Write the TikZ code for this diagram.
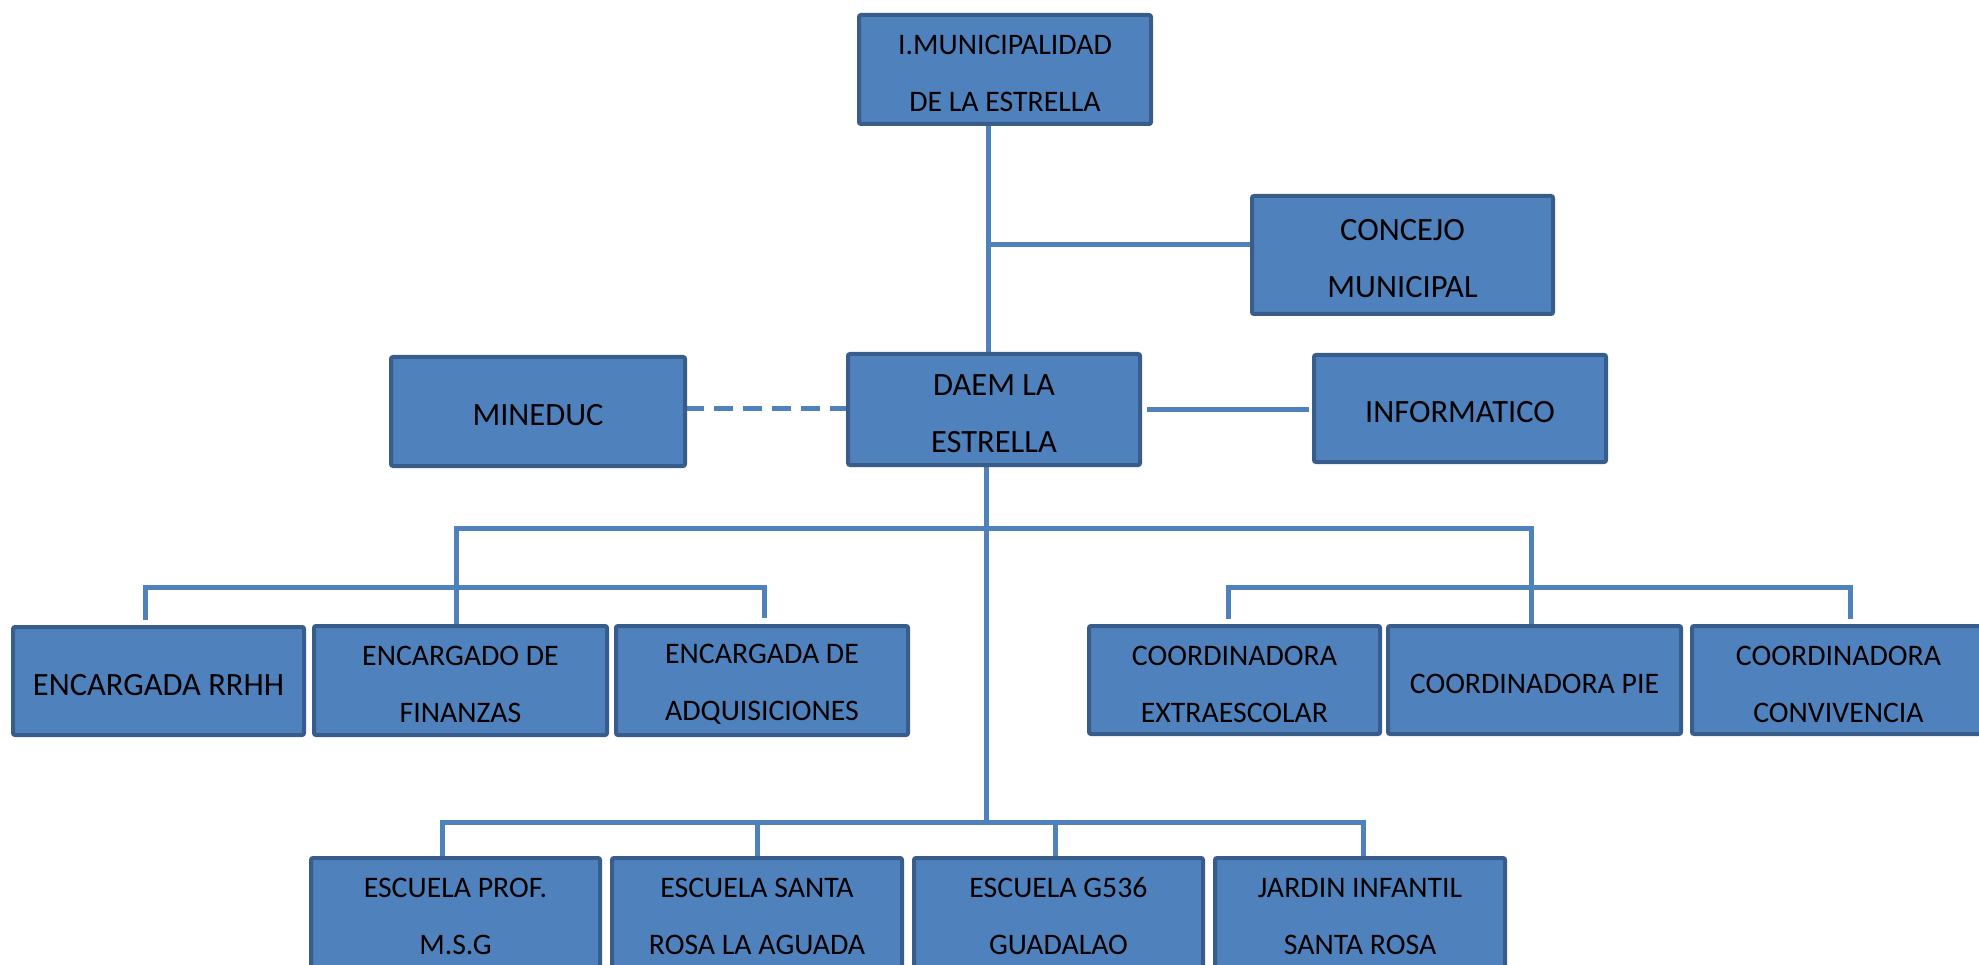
\documentclass[tikz,border=0pt]{standalone}
\usepackage{fontspec}
\setmainfont{Carlito}
\usetikzlibrary{backgrounds}
\definecolor{boxfill}{HTML}{4F81BD}
\definecolor{boxline}{HTML}{385D8A}
\definecolor{connc}{HTML}{4F81BD}
\begin{document}
\begin{tikzpicture}[x=1pt,y=-1pt,
  orgbox/.style={draw=boxline,line width=4pt,fill=boxfill,rounded corners=2pt,inner sep=0pt,outer sep=0pt},
  lbl/.style={align=center,inner sep=0pt,font=\fontsize{29.8}{57}\selectfont,text=black,yshift=-4pt},
  lblbig/.style={lbl,font=\fontsize{32.5}{57}\selectfont},
  conn/.style={draw=connc,line width=5pt},
  dconn/.style={conn,dash pattern=on 18.5pt off 10.5pt}]
\useasboundingbox (0,0) rectangle (1979,965);
\clip (0,0) rectangle (1979,965);
% boxes
\node[orgbox,minimum width=292pt,minimum height=109pt] (imun) at (1005,69.5) {};
\node[orgbox,minimum width=301pt,minimum height=118pt] (concejo) at (1402.5,255) {};
\node[orgbox,minimum width=294pt,minimum height=109pt] (mineduc) at (538,411.5) {};
\node[orgbox,minimum width=292pt,minimum height=111pt] (daem) at (994,409.5) {};
\node[orgbox,minimum width=292pt,minimum height=107pt] (info) at (1460,408.5) {};
\node[orgbox,minimum width=291pt,minimum height=108pt] (rrhh) at (158.5,681) {};
\node[orgbox,minimum width=293pt,minimum height=109pt] (fin) at (460.5,680.5) {};
\node[orgbox,minimum width=292pt,minimum height=109pt] (adq) at (762,680.5) {};
\node[orgbox,minimum width=291pt,minimum height=108pt] (extra) at (1234.5,680) {};
\node[orgbox,minimum width=293pt,minimum height=108pt] (pie) at (1534.5,680) {};
\node[orgbox,minimum width=293pt,minimum height=108pt] (conv) at (1838.5,680) {};
\node[orgbox,minimum width=289pt,minimum height=109pt] (esc1) at (455.5,912.5) {};
\node[orgbox,minimum width=290pt,minimum height=109pt] (esc2) at (757,912.5) {};
\node[orgbox,minimum width=289pt,minimum height=109pt] (esc3) at (1058.5,912.5) {};
\node[orgbox,minimum width=290pt,minimum height=109pt] (jardin) at (1360,912.5) {};
% labels
\node[lbl] (imunT) at (imun.center) {I.MUNICIPALIDAD\\DE LA ESTRELLA};
\node[lblbig] (concejoT) at (concejo.center) {CONCEJO\\MUNICIPAL};
\node[lblbig] (mineducT) at (mineduc.center) {MINEDUC};
\node[lblbig] (daemT) at (daem.center) {DAEM LA\\ESTRELLA};
\node[lblbig] (infoT) at (info.center) {INFORMATICO};
\node[lblbig] (rrhhT) at (rrhh.center) {ENCARGADA RRHH};
\node[lbl] (finT) at (fin.center) {ENCARGADO DE\\FINANZAS};
\node[lbl] (adqT) at (adq.center) {ENCARGADA DE\\ADQUISICIONES};
\node[lbl] (extraT) at (extra.center) {COORDINADORA\\EXTRAESCOLAR};
\node[lbl] (pieT) at (pie.center) {COORDINADORA PIE};
\node[lbl] (convT) at (conv.center) {COORDINADORA\\CONVIVENCIA};
\node[lbl] (esc1T) at (esc1.center) {ESCUELA PROF.\\M.S.G};
\node[lbl] (esc2T) at (esc2.center) {ESCUELA SANTA\\ROSA LA AGUADA};
\node[lbl] (esc3T) at (esc3.center) {ESCUELA G536\\GUADALAO};
\node[lbl] (jardinT) at (jardin.center) {JARDIN INFANTIL\\SANTA ROSA};
% connectors
\coordinate (t1) at (988,245);
\coordinate (t2) at (986,822);
\coordinate (b1l) at (456,528);
\coordinate (b1r) at (1531,528);
\coordinate (lsl) at (145,587);
\coordinate (lsr) at (764,587);
\coordinate (rsl) at (1228,587);
\coordinate (rsr) at (1850,587);
\coordinate (sbl) at (442,822);
\coordinate (sbr) at (1363,822);
\coordinate (s3) at (1055,822);
\coordinate (md) at (0,409);
\begin{scope}[on background layer]
\draw[conn] (imun.south -| t1) -- (daem.north -| t1);
\draw[conn] (t1) -- (t1 -| concejo.west);
\draw[dconn] (md -| mineduc.east) -- (md -| daem.west);
\draw[conn] ([xshift=7pt]daem.east) -- ([xshift=-5pt]info.west |- daem.east);
\draw[conn] (daem.south -| t2) -- (t2);
\draw[conn] (fin.north -| b1l) -- (b1l) -- (b1r) -- (pie.north -| b1r);
\draw[conn] ([yshift=7pt]rrhh.north -| lsl) -- (lsl) -- (lsr) -- ([yshift=8pt]adq.north -| lsr);
\draw[conn] ([yshift=7pt]extra.north -| rsl) -- (rsl) -- (rsr) -- ([yshift=7pt]conv.north -| rsr);
\draw[conn] (esc1.north -| sbl) -- (sbl) -- (sbr) -- (jardin.north -| sbr);
\draw[conn] (esc2.north) -- (esc2.north |- t2);
\draw[conn] (esc3.north -| s3) -- (s3);
\end{scope}
\end{tikzpicture}
\end{document}
